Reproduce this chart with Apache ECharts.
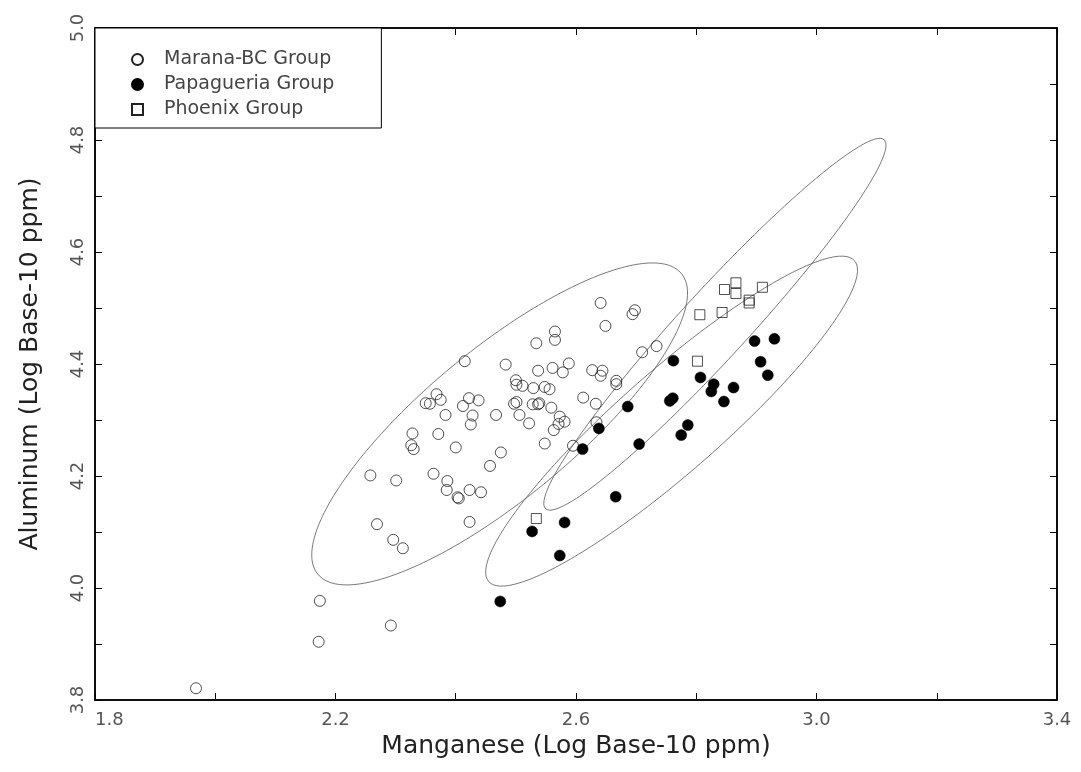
<!DOCTYPE html>
<html>
<head>
<meta charset="utf-8">
<script src="https://cdn.jsdelivr.net/npm/echarts@6/dist/echarts.min.js"></script>
<style>
html,body{margin:0;padding:0;background:#fff;}
#chart{width:1081px;height:772px;}
</style>
</head>
<body>
<div id="chart"></div>
<script>
// Marana-BC Group [Mn, Al] (log10 ppm)
var maranaData = [
  [2.415,4.405],[2.350,4.330],[2.357,4.329],[2.368,4.346],[2.375,4.336],[2.383,4.309],
  [2.412,4.325],[2.422,4.339],[2.438,4.335],[2.428,4.308],[2.425,4.292],[2.328,4.276],
  [2.371,4.275],[2.326,4.255],[2.330,4.248],[2.400,4.251],[2.475,4.242],[2.457,4.218],
  [2.258,4.201],[2.301,4.192],[2.363,4.204],[2.386,4.191],[2.385,4.175],[2.403,4.162],
  [2.405,4.160],[2.423,4.175],[2.442,4.171],[2.269,4.114],[2.296,4.086],[2.312,4.071],
  [2.423,4.118],[2.548,4.258],[2.563,4.282],[2.571,4.293],[2.595,4.254],[2.174,3.977],
  [2.292,3.933],[2.172,3.904],[1.968,3.821],[2.641,4.509],[2.698,4.496],[2.694,4.489],
  [2.649,4.468],[2.565,4.458],[2.565,4.443],[2.534,4.437],[2.710,4.421],[2.734,4.432],
  [2.483,4.399],[2.537,4.388],[2.561,4.393],[2.578,4.385],[2.588,4.401],[2.627,4.389],
  [2.644,4.388],[2.641,4.379],[2.667,4.370],[2.667,4.364],[2.500,4.371],[2.501,4.363],
  [2.511,4.361],[2.529,4.357],[2.548,4.359],[2.556,4.355],[2.497,4.329],[2.501,4.332],
  [2.528,4.328],[2.537,4.328],[2.539,4.330],[2.559,4.322],[2.612,4.340],[2.633,4.329],
  [2.467,4.309],[2.506,4.309],[2.522,4.294],[2.573,4.306],[2.581,4.297],[2.634,4.296]
];
// Papagueria Group
var papagueriaData = [
  [2.762,4.406],[2.807,4.376],[2.829,4.364],[2.825,4.351],[2.862,4.358],[2.846,4.333],
  [2.756,4.334],[2.761,4.339],[2.686,4.324],[2.638,4.285],[2.611,4.248],[2.705,4.257],
  [2.786,4.291],[2.775,4.273],[2.666,4.163],[2.581,4.117],[2.527,4.101],[2.573,4.058],
  [2.897,4.441],[2.930,4.445],[2.907,4.404],[2.919,4.380],[2.474,3.976]
];
// Phoenix Group
var phoenixData = [
  [2.847,4.533],[2.866,4.545],[2.866,4.526],[2.910,4.537],[2.888,4.514],[2.888,4.509],
  [2.806,4.488],[2.843,4.492],[2.802,4.405],[2.534,4.124]
];
var groupNames = ['Marana-BC Group','Papagueria Group','Phoenix Group'];

// Confidence ellipses: center [x,y], conjugate half-diameters u=[ux,uy], v=[vx,vy]
var ellipseCenters = [[2.473,4.293],[2.759,4.298],[2.831,4.471]];
var ellipseU = [[0.3125,0.2339],[0.3092,0.2696],[0.2846,0.3200]];
var ellipseV = [[0,0.1671],[0,0.1188],[0,0.0884]];

var xTickLabels = ['1.8','2.2','2.6','3.0','3.4'];
var yTickLabels = ['3.8','4.0','4.2','4.4','4.6','4.8','5.0'];

function ellipsePoints(c,u,v){
  var pts=[], n=240;
  for(var i=0;i<=n;i++){
    var t=2*Math.PI*i/n, ct=Math.cos(t), st=Math.sin(t);
    pts.push([c[0]+u[0]*ct+v[0]*st, c[1]+u[1]*ct+v[1]*st]);
  }
  return pts;
}

var FONT = "'DejaVu Sans ExtraLight','DejaVu Sans',sans-serif";
function fmtLabel(list){
  return function(v){
    var s=v.toFixed(1);
    return list.indexOf(s)>=0 ? s : '';
  };
}

var chart = echarts.init(document.getElementById('chart'), null, {renderer:'canvas'});
var tickStyle = {color:'#000', width:1};
var ellipseSeries = ellipseCenters.map(function(c,i){
  return {
    type:'line', name:'ellipse'+i, data:ellipsePoints(c,ellipseU[i],ellipseV[i]),
    showSymbol:false, symbol:'none', smooth:false, silent:true, z:1,
    lineStyle:{color:'#555', width:0.8}, xAxisIndex:0, yAxisIndex:0
  };
});
var option = {
  animation:false,
  backgroundColor:'#fff',
  grid:{left:95, right:24, top:28, bottom:72, show:true, borderColor:'#000', borderWidth:1.5, backgroundColor:'transparent'},
  legend:{
    data:groupNames, left:95, top:28, orient:'vertical',
    backgroundColor:'#fff',
    borderColor:'#000', borderWidth:1, borderRadius:0,
    padding:[22,47,9,36], itemGap:6, itemWidth:11, itemHeight:11,
    textStyle:{fontFamily:FONT, fontSize:19, color:'#444', padding:[0,0,0,16]}
  },
  xAxis:[{
    type:'value', min:1.8, max:3.4, interval:0.2, position:'bottom',
    axisLine:{show:true, onZero:false, lineStyle:{color:'#000', width:1.5}},
    axisTick:{show:true, inside:true, length:7, lineStyle:tickStyle},
    axisLabel:{formatter:fmtLabel(xTickLabels), fontFamily:FONT, fontSize:18, color:'#555', margin:11, alignMinLabel:'left', alignMaxLabel:'center', showMinLabel:true, showMaxLabel:true},
    splitLine:{show:false},
    name:'Manganese (Log Base-10 ppm)', nameLocation:'middle', nameGap:34,
    nameTextStyle:{fontFamily:FONT, fontSize:25, color:'#222'}
  },{
    type:'value', min:1.8, max:3.4, interval:0.2, position:'top',
    axisLine:{show:true, onZero:false, lineStyle:{color:'#000', width:1.5}},
    axisTick:{show:true, inside:true, length:7, lineStyle:tickStyle},
    axisLabel:{show:false}, splitLine:{show:false}
  }],
  yAxis:[{
    type:'value', min:3.8, max:5.0, interval:0.1, position:'left',
    axisLine:{show:true, onZero:false, lineStyle:{color:'#000', width:1.5}},
    axisTick:{show:true, inside:true, length:7, lineStyle:tickStyle},
    axisLabel:{formatter:fmtLabel(yTickLabels), rotate:90, fontFamily:FONT, fontSize:18, color:'#555', margin:8, showMinLabel:true, showMaxLabel:true},
    splitLine:{show:false},
    name:'Aluminum (Log Base-10 ppm)', nameLocation:'middle', nameGap:52,
    nameTextStyle:{fontFamily:FONT, fontSize:25, color:'#222'}
  },{
    type:'value', min:3.8, max:5.0, interval:0.1, position:'right',
    axisLine:{show:true, onZero:false, lineStyle:{color:'#000', width:1.5}},
    axisTick:{show:true, inside:true, length:7, lineStyle:tickStyle},
    axisLabel:{show:false}, splitLine:{show:false}
  }],
  series: ellipseSeries.concat([
    {type:'scatter', name:groupNames[0], data:maranaData, symbol:'circle', symbolSize:11, z:3,
     itemStyle:{color:'rgba(255,255,255,0)', borderColor:'#222', borderWidth:0.8, opacity:1}},
    {type:'scatter', name:groupNames[1], data:papagueriaData, symbol:'circle', symbolSize:11, z:4,
     itemStyle:{color:'#000', borderColor:'#000', borderWidth:0.5, opacity:1}},
    {type:'scatter', name:groupNames[2], data:phoenixData, symbol:'rect', symbolSize:10, z:3,
     itemStyle:{color:'rgba(255,255,255,0)', borderColor:'#222', borderWidth:0.8, opacity:1}}
  ])
};
chart.setOption(option);
</script>
</body>
</html>
